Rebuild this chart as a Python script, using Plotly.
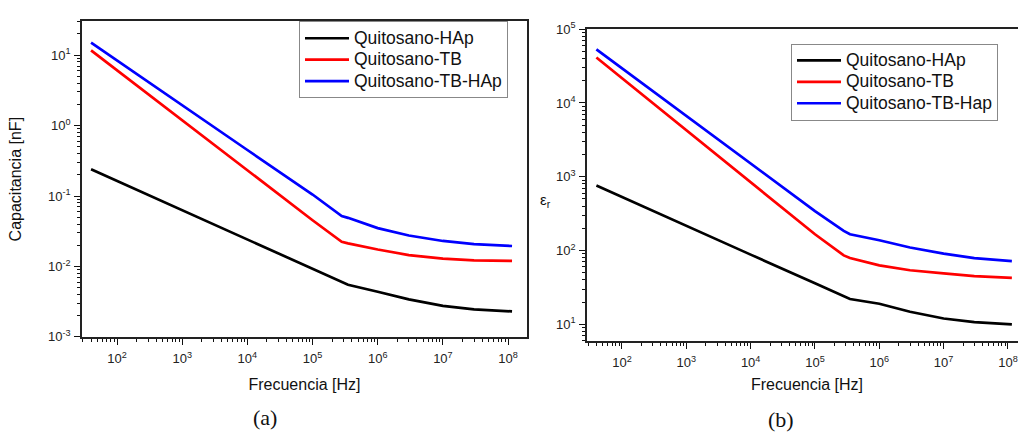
import plotly.graph_objects as go

# Frequency sweep shared by both panels [Hz]
freq = [40, 1e2, 1e3, 1e4, 1e5, 2.8e5, 3.5e5, 1e6, 3e6, 1e7, 3e7, 1.15e8]

# (a) Capacitance [nF]
cap_hap = [0.24, 0.164, 0.063, 0.0242, 0.0093, 0.0060, 0.0055, 0.00437, 0.0034, 0.00275, 0.00245, 0.0023]
cap_tb = [11.7, 6.1, 1.19, 0.232, 0.0453, 0.0224, 0.0213, 0.0174, 0.0145, 0.0129, 0.0122, 0.0120]
cap_tb_hap = [15.1, 8.4, 1.95, 0.45, 0.105, 0.052, 0.049, 0.035, 0.0275, 0.023, 0.0207, 0.0195]

# (b) Relative permittivity
eps_hap = [760, 530, 217, 88, 36, 24.3, 22, 19, 14.8, 12, 10.7, 10]
eps_tb = [41300, 21600, 4260, 840, 166, 86, 79, 63, 54, 49, 45, 42.6]
eps_tb_hap = [53300, 29500, 6700, 1510, 343, 185, 166, 138, 110, 91, 79, 72]

labels_a = ["Quitosano-HAp", "Quitosano-TB", "Quitosano-TB-HAp"]
labels_b = ["Quitosano-HAp", "Quitosano-TB", "Quitosano-TB-Hap"]
colors = ["#000000", "#ff0000", "#0000ff"]

x_tick_vals = [1e2, 1e3, 1e4, 1e5, 1e6, 1e7, 1e8]
x_tick_text = ["10<sup>2</sup>", "10<sup>3</sup>", "10<sup>4</sup>", "10<sup>5</sup>",
               "10<sup>6</sup>", "10<sup>7</sup>", "10<sup>8</sup>"]
ya_tick_vals = [1e-3, 1e-2, 1e-1, 1e0, 1e1]
ya_tick_text = ["10<sup>-3</sup>", "10<sup>-2</sup>", "10<sup>-1</sup>", "10<sup>0</sup>", "10<sup>1</sup>"]
yb_tick_vals = [1e1, 1e2, 1e3, 1e4, 1e5]
yb_tick_text = ["10<sup>1</sup>", "10<sup>2</sup>", "10<sup>3</sup>", "10<sup>4</sup>", "10<sup>5</sup>"]

W, H = 1018, 441
FONT = "Liberation Sans, Arial, sans-serif"
SERIF = "Liberation Serif, DejaVu Serif, serif"
LEGEND_ROW_FONT = 14.2   # sets the row pitch of the legend
LEGEND_TEXT_PX = 17.5    # actual size of the legend labels


def legend_label(s):
    return f'<span style="font-size:{LEGEND_TEXT_PX}px">{s}</span>'


# log-decade minor ticks (2..9)
minor_log = dict(dtick="D1", ticks="outside", ticklen=3.5, tickwidth=1.2,
                 tickcolor="#111", showgrid=False)

fig = go.Figure()

for vals, name, col in zip([cap_hap, cap_tb, cap_tb_hap], labels_a, colors):
    fig.add_trace(go.Scatter(x=freq, y=vals, mode="lines", name=legend_label(name),
                             line=dict(color=col, width=2.7),
                             xaxis="x", yaxis="y", legend="legend"))

for vals, name, col in zip([eps_hap, eps_tb, eps_tb_hap], labels_b, colors):
    fig.add_trace(go.Scatter(x=freq, y=vals, mode="lines", name=legend_label(name),
                             line=dict(color=col, width=2.7),
                             xaxis="x2", yaxis="y2", legend="legend2"))

axis_common = dict(
    type="log", showgrid=False, zeroline=False,
    showline=True, linecolor="#222", linewidth=1.6,
    ticks="outside", ticklen=6, tickwidth=1.4, tickcolor="#111",
    tickfont=dict(family=FONT, size=13, color="#222"),
    tickmode="array", minor=minor_log,
)

# Left panel box: x 82..527 px, y 13..341 px
fig.update_layout(
    xaxis=dict(**axis_common, domain=[82 / W, 527 / W], range=[1.463, 8.29],
               tickvals=x_tick_vals, ticktext=x_tick_text, mirror=True, anchor="y",
               ticklabelstandoff=3,
               title=dict(text="Frecuencia [Hz]", font=dict(family=FONT, size=16, color="#111"),
                          standoff=14)),
    yaxis=dict(**axis_common, domain=[(H - 341) / H, (H - 13) / H], range=[-3, 1.478],
               tickvals=ya_tick_vals, ticktext=ya_tick_text, mirror=True, anchor="x",
               ticklabelstandoff=1,
               title=dict(text="Capacitancia [nF]", font=dict(family=FONT, size=16, color="#111"),
                          standoff=22)),
    # Right panel box: x 587..(beyond edge) px, y 21..345 px
    xaxis2=dict(**axis_common, domain=[587 / W, 1.0], range=[1.456, 8.156],
                tickvals=x_tick_vals, ticktext=x_tick_text, mirror=True, anchor="y2",
                ticklabelstandoff=3),
    yaxis2=dict(**axis_common, domain=[(H - 345) / H, (H - 21) / H], range=[0.778, 5],
                tickvals=yb_tick_vals, ticktext=yb_tick_text, mirror=False, anchor="x2",
                ticklabelstandoff=1),
    legend=dict(x=299 / W, y=(H - 13) / H, xanchor="left", yanchor="top",
                bgcolor="white", bordercolor="#888", borderwidth=1, itemwidth=44,
                font=dict(family=FONT, size=LEGEND_ROW_FONT, color="#111"), tracegroupgap=0),
    legend2=dict(x=791 / W, y=(H - 36) / H, xanchor="left", yanchor="top",
                 bgcolor="white", bordercolor="#888", borderwidth=1, itemwidth=44,
                 font=dict(family=FONT, size=LEGEND_ROW_FONT, color="#111"), tracegroupgap=0),
    width=W, height=H,
    margin=dict(l=0, r=0, t=0, b=0),
    paper_bgcolor="white", plot_bgcolor="white",
    showlegend=True,
)

# Right-panel axis titles and panel captions
fig.add_annotation(x=807 / W, y=(H - 391) / H, xref="paper", yref="paper",
                   xanchor="center", yanchor="middle",
                   text="Frecuencia [Hz]", showarrow=False,
                   font=dict(family=FONT, size=16, color="#111"))
fig.add_annotation(x=545 / W, y=(H - 199) / H, xref="paper", yref="paper",
                   xanchor="center", yanchor="middle",
                   text="ε<sub>r</sub>", showarrow=False,
                   font=dict(family=FONT, size=15, color="#111"))
fig.add_annotation(x=265 / W, y=(H - 425) / H, xref="paper", yref="paper",
                   xanchor="center", yanchor="middle",
                   text="(a)", showarrow=False,
                   font=dict(family=SERIF, size=22, color="#111"))
fig.add_annotation(x=781 / W, y=(H - 427) / H, xref="paper", yref="paper",
                   xanchor="center", yanchor="middle",
                   text="(b)", showarrow=False,
                   font=dict(family=SERIF, size=22, color="#111"))

fig.write_html("out.html")
